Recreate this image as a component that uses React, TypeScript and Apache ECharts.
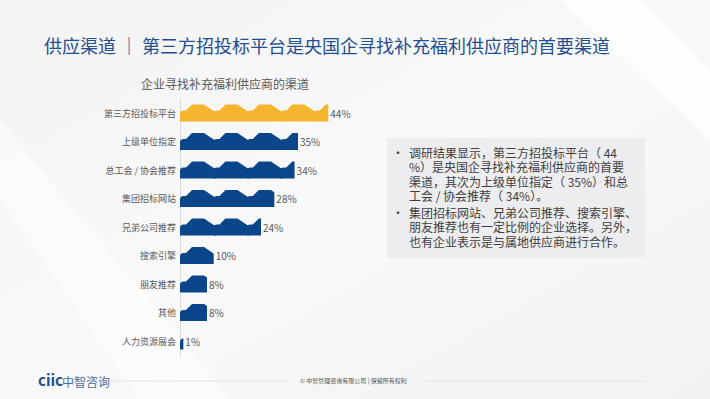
import React, { useEffect, useRef } from "react";
import * as echarts from "echarts";

const pageTitle = "供应渠道 ｜ 第三方招投标平台是央国企寻找补充福利供应商的首要渠道";
const chartTitle = "企业寻找补充福利供应商的渠道";
const categories = [
  "第三方招投标平台",
  "上级单位指定",
  "总工会 / 协会推荐",
  "集团招标网站",
  "兄弟公司推荐",
  "搜索引擎",
  "朋友推荐",
  "其他",
  "人力资源展会",
];
const values = [44, 35, 34, 28, 24, 10, 8, 8, 1];
const highlightIndex = 0;
const bulletLines1 = [
  "调研结果显示，第三方招投标平台（ 44",
  "%）是央国企寻找补充福利供应商的首要",
  "渠道，其次为上级单位指定（ 35%）和总",
  "工会 / 协会推荐（ 34%）。",
];
const bulletLines2 = [
  "集团招标网站、兄弟公司推荐、搜索引擎、",
  "朋友推荐也有一定比例的企业选择。另外，",
  "也有企业表示是与属地供应商进行合作。",
];
const footerText = "© 中智管理咨询有限公司 | 保留所有权利";

const CAR =
  "path://M0,17 L0,9.5 Q0,6 3.5,6 L6,6 L12,0 L24,0 L36,8 L36,17 Z";

const FONT = "'Noto Sans CJK SC', 'Noto Sans', sans-serif";

export default function App() {
  const ref = useRef<HTMLDivElement>(null);
  useEffect(() => {
    if (!ref.current) return;
    const chart = echarts.init(ref.current, undefined, { renderer: "svg" });

    const lineH = 14.5;
    const para = (lines: string[], top: number) => ({
      type: "text",
      left: 409,
      top,
      style: {
        text: lines.join("\n"),
        fill: "#404040",
        font: `12px ${FONT}`,
        lineHeight: lineH,
      },
    });
    const bullet = (top: number) => ({
      type: "text",
      left: 392,
      top,
      style: { text: "•", fill: "#404040", font: `12px ${FONT}`, lineHeight: lineH },
    });

    chart.setOption({
      animation: false,
      backgroundColor: {
        type: "linear",
        x: 0,
        y: 0,
        x2: 1,
        y2: 1,
        colorStops: [
          { offset: 0, color: "#f3f3f3" },
          { offset: 0.5, color: "#f9f9f9" },
          { offset: 1, color: "#f2f2f2" },
        ],
      },
      graphic: [
        {
          type: "polygon",
          silent: true,
          shape: { points: [[560, 0], [640, 0], [710, 70], [710, 140]] },
          style: { fill: "rgba(255,255,255,0.7)" },
        },
        {
          type: "polygon",
          silent: true,
          shape: { points: [[0, 120], [0, 200], [140, 399], [230, 399]] },
          style: { fill: "rgba(255,255,255,0.5)" },
        },
        {
          type: "text",
          left: 44,
          top: 36,
          style: { text: pageTitle, fill: "#1f4e91", font: `18px ${FONT}` },
        },
        {
          type: "text",
          left: 141,
          top: 77,
          style: { text: chartTitle, fill: "#595959", font: `12px ${FONT}` },
        },
        {
          type: "rect",
          silent: true,
          shape: { x: 387, y: 138, width: 258, height: 120 },
          style: { fill: "#ededf0" },
        },
        para(bulletLines1, 145),
        para(bulletLines2, 205),
        bullet(145),
        bullet(205),
        {
          type: "text",
          left: 38,
          top: 372,
          style: { text: "ciic", fill: "#1f4e91", font: `bold 15px ${FONT}` },
        },
        {
          type: "text",
          left: 62,
          top: 375,
          style: { text: "中智咨询", fill: "#4a6fa5", font: `12px ${FONT}` },
        },
        {
          type: "line",
          silent: true,
          shape: { x1: 111, y1: 381, x2: 288, y2: 381 },
          style: { stroke: "#e2e2e2", lineWidth: 1 },
        },
        {
          type: "line",
          silent: true,
          shape: { x1: 421, y1: 381, x2: 645, y2: 381 },
          style: { stroke: "#e2e2e2", lineWidth: 1 },
        },
        {
          type: "text",
          left: 300,
          top: 377,
          style: { text: footerText, fill: "#555555", font: `6px ${FONT}` },
        },
      ],
      grid: { left: 180, top: 98.75, width: 337, height: 256.5 },
      xAxis: {
        type: "value",
        min: 0,
        max: 100,
        show: false,
      },
      yAxis: {
        type: "category",
        inverse: true,
        data: categories,
        axisLine: { show: true, lineStyle: { color: "#d9d9d9" } },
        axisTick: { show: false },
        axisLabel: {
          color: "#595959",
          fontSize: 9,
          fontFamily: FONT,
          margin: 4,
        },
      },
      series: [
        {
          type: "pictorialBar",
          symbol: CAR,
          symbolRepeat: true,
          symbolClip: true,
          symbolSize: [36, 17],
          symbolMargin: 0,
          data: values.map((v, i) => ({
            value: v,
            itemStyle: { color: i === highlightIndex ? "#f6b52f" : "#0c468a" },
          })),
          z: 3,
        },
        {
          type: "bar",
          barWidth: 17,
          data: values,
          itemStyle: { color: "transparent" },
          label: {
            show: true,
            position: "right",
            distance: 2,
            formatter: "{c}%",
            color: "#595959",
            fontSize: 10,
            fontFamily: FONT,
          },
          z: 2,
        },
      ],
    });
    return () => chart.dispose();
  }, []);
  return (
    <div
      ref={ref}
      style={{ position: "fixed", left: 0, top: 0, width: 710, height: 399 }}
    />
  );
}
